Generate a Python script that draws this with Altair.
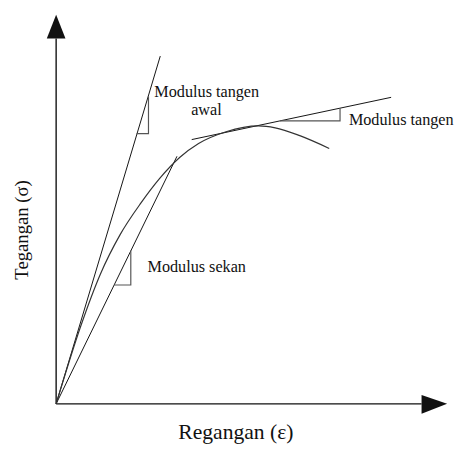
import altair as alt
import pandas as pd

# Coordinates are in a schematic unit system (strain, stress) with origin at the axes' corner.
# Stress-strain curve
curve_x = [0, 25, 45, 65, 86, 105, 126, 145, 173, 206, 223, 248, 278]
curve_y = [0, 79, 132, 172, 204, 229, 251, 265, 277, 283, 281, 273, 260]

# Straight lines: initial tangent, secant, tangent
line_names = ["tangen awal", "tangen awal", "sekan", "sekan", "tangen", "tangen"]
line_x = [0, 106, 0, 123, 138, 341]
line_y = [0, 354, 0, 252, 269, 312]

# Small slope triangles
tri_names = ["t1", "t1", "t1", "t2", "t2", "t2", "t3", "t3", "t3"]
tri_x = [82, 94, 94, 59, 76, 76, 228, 289, 289]
tri_y = [275, 275, 313, 121, 121, 156, 288, 288, 301]

# Axes
axis_names = ["y", "y", "x", "x"]
axis_x = [0, 0, 0, 372]
axis_y = [0, 372, 0, 0]

# Arrow heads (filled triangles)
arrow_up_y = [372, 396]
arrow_up_x = [-9.5, 0]
arrow_up_x2 = [9.5, 0]
arrow_right_x = [372, 398]
arrow_right_y = [9, 0]
arrow_right_y2 = [-10, 0]

# Labels
label_text = ["Modulus tangen", "awal", "Modulus tangen", "Modulus sekan"]
label_x = [100, 153, 298, 93]
label_y = [312, 294, 284, 134]
label_align = ["left", "center", "left", "left"]

x_title = "Regangan (ε)"
y_title = "Tegangan (σ)"

XD = [-49, 397]
YD = [-35, 399]
xs = alt.Scale(domain=XD, nice=False, zero=False)
ys = alt.Scale(domain=YD, nice=False, zero=False)
FONT = "Liberation Serif, Times New Roman, DejaVu Serif, serif"

curve_df = pd.DataFrame({"x": curve_x, "y": curve_y, "o": range(len(curve_x))})
line_df = pd.DataFrame({"x": line_x, "y": line_y, "g": line_names, "o": range(len(line_x))})
tri_df = pd.DataFrame({"x": tri_x, "y": tri_y, "g": tri_names, "o": range(len(tri_x))})
axis_df = pd.DataFrame({"x": axis_x, "y": axis_y, "g": axis_names, "o": range(len(axis_x))})
up_df = pd.DataFrame({"y": arrow_up_y, "x": arrow_up_x, "x2": arrow_up_x2})
right_df = pd.DataFrame({"x": arrow_right_x, "y": arrow_right_y, "y2": arrow_right_y2})
lab_df = pd.DataFrame({"x": label_x, "y": label_y, "t": label_text, "a": label_align})

X = lambda: alt.X("x:Q", scale=xs, axis=None)
Y = lambda: alt.Y("y:Q", scale=ys, axis=None)

curve = alt.Chart(curve_df).mark_line(color="#333333", strokeWidth=1.2, interpolate="monotone").encode(
    x=X(), y=Y(), order="o:Q")
lines = alt.Chart(line_df).mark_line(color="#111111", strokeWidth=1).encode(
    x=X(), y=Y(), detail="g:N", order="o:Q")
tris = alt.Chart(tri_df).mark_line(color="#555555", strokeWidth=1.2).encode(
    x=X(), y=Y(), detail="g:N", order="o:Q")
axes = alt.Chart(axis_df).mark_line(color="#111111", strokeWidth=1.4).encode(
    x=X(), y=Y(), detail="g:N", order="o:Q")
up = alt.Chart(up_df).mark_area(color="#111111", orient="horizontal", opacity=1).encode(
    y=Y(), x=X(), x2="x2:Q")
right = alt.Chart(right_df).mark_area(color="#111111", orient="vertical", opacity=1).encode(
    x=X(), y=Y(), y2="y2:Q")

labels_left = alt.Chart(lab_df[lab_df.a == "left"]).mark_text(
    font=FONT, fontSize=16.5, align="left", baseline="alphabetic", color="#111111").encode(
    x=X(), y=Y(), text="t:N")
labels_center = alt.Chart(lab_df[lab_df.a == "center"]).mark_text(
    font=FONT, fontSize=16.5, align="center", baseline="alphabetic", color="#111111").encode(
    x=X(), y=Y(), text="t:N")

xt = alt.Chart(pd.DataFrame({"x": [183], "y": [-36], "t": [x_title]})).mark_text(
    font=FONT, fontSize=22, align="center", baseline="alphabetic", color="#111111").encode(
    x=X(), y=Y(), text="t:N")
yt = alt.Chart(pd.DataFrame({"x": [-35], "y": [177], "t": [y_title]})).mark_text(
    font=FONT, fontSize=19, align="center", baseline="middle", angle=270, color="#111111").encode(
    x=X(), y=Y(), text="t:N")

chart = alt.layer(axes, up, right, lines, curve, tris, labels_left, labels_center, xt, yt).properties(
    width=446, height=434,
    autosize=alt.AutoSizeParams(type="none"),
    padding={"left": 0, "top": 0, "right": 8, "bottom": 6},
    background="white",
).configure_view(stroke=None)

chart.save("out.html", embed_options={"renderer": "svg", "actions": False})
